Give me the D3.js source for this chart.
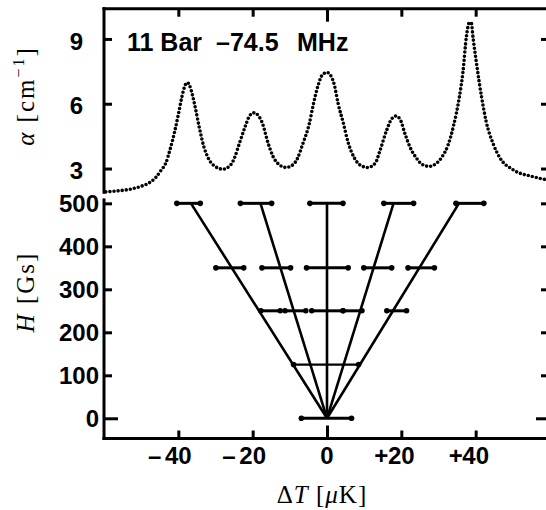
<!DOCTYPE html>
<html>
<head>
<meta charset="utf-8">
<script src="https://cdn.jsdelivr.net/npm/d3@7"></script>
<style>
body { margin: 0; background: #fff; }
svg { display: block; }
.num { font-family: "Liberation Sans", Arial, sans-serif; font-weight: bold; font-size: 24px; fill: #000; }
.ttl { font-family: "Liberation Serif", "Times New Roman", serif; font-size: 25px; fill: #000; }
</style>
</head>
<body>
<div id="chart"></div>
<script>
/* global d3 */

// absorption trace (delta T in microK, alpha in 1/cm)
var curveT = [-59.5, -56, -53, -50, -48, -46, -44.5, -43.5, -42.2, -41, -40, -39, -38.2, -37.6, -37, -36.2,
    -35.3, -34.3, -33.2, -32, -30.5, -28, -26, -25, -23.5, -22, -20.8, -19.6, -18.5, -17.5, -15.8, -14.5,
    -13, -11, -9, -8, -6.5, -4.8, -3.7, -2.4, -1.2, 0, 1.2, 2, 3, 4.4, 5.7, 7.5, 9, 11, 13, 14.2, 16, 17.4,
    18.5, 19.6, 21, 22.3, 24, 25.5, 27.5, 29.5, 31, 32.6, 34, 35.6, 36.6, 37.5, 38.3, 38.8, 39.3, 40.2,
    41.6, 42.8, 44.7, 46.5, 50, 55.5, 60];
var curveA = [1.92, 1.97, 2.04, 2.18, 2.32, 2.6, 2.95, 3.2, 3.9, 4.7, 5.5, 6.35, 6.85, 6.98, 6.85, 6.4,
    5.7, 4.85, 4.05, 3.5, 3.15, 2.97, 3.15, 3.45, 4.2, 4.95, 5.45, 5.58, 5.45, 5.15, 4.15, 3.55,
    3.2, 3.05, 3.2, 3.45, 4.15, 5.05, 5.95, 6.85, 7.35, 7.45, 7.25, 6.85, 6.0, 5.1, 4.2, 3.45, 3.15, 3.05, 3.25, 3.8, 4.75, 5.3,
    5.43, 5.3, 4.6, 4.0, 3.5, 3.2, 3.1, 3.25, 3.55, 4.1, 4.95, 6.3, 7.5, 9.1, 9.75, 9.75, 9.05, 7.9,
    6.3, 5.2, 4.15, 3.5, 2.95, 2.62, 2.45];

var alphaTicks = [3, 6, 9];
var fieldTicks = [0, 100, 200, 300, 400, 500];
var tempTicks = [-40, -20, 0, 20, 40];

// lines from the origin up to H = 500 Gs
var fanEndT = [-36.6, -17.9, 0, 17.9, 35.5];
var fanEndH = 500;

// horizontal bars with dotted ends
var barH  = [500, 500, 500, 500, 500, 350, 350, 350, 350, 350, 250, 250, 250, 250, 250, 125, 0];
var barLo = [-40.4, -23.3, -4.6, 15.3, 34.7, -29.9, -17.5, -5.5, 9.9, 21.8, -17.8, -11.3, -4.1, 4.3, 16.1, -9.0, -6.9];
var barHi = [-34.1, -14.9, 4.3, 23.3, 42.2, -22.4, -9.8, 5.7, 17.4, 28.9, -12.6, -5.7, 4.3, 9.4, 21.4, 8.5, 6.6];

(function () {
    var width = 546, height = 510;
    var svg = d3.select('#chart').append('svg')
            .attr('width', width)
            .attr('height', height);

    var x = d3.scaleLinear().domain([-60, 60]).range([104, 550]);
    var yA = d3.scaleLinear().domain([1.9, 10.4]).range([192.3, 8.7]);
    var yH = d3.scaleLinear().domain([-47, 508]).range([438.5, 199.9]);

    var xLeft = x.range()[0], xRight = x.range()[1];
    var yTop = yA.range()[1], yBottom = yH.range()[0];

    function styleAxis(g) {
        g.select('.domain').remove();
        g.selectAll('.tick line').attr('stroke', '#000').attr('stroke-width', 3);
        g.selectAll('.tick text').remove();
    }

    // frame lines
    var frame = [
        [xLeft, yA.range()[0], xLeft, yTop],
        [xLeft, yH.range()[1], xLeft, yBottom],
        [xLeft, yTop, xRight, yTop],
        [xLeft, yBottom, xRight, yBottom]
    ];
    svg.selectAll('line.frame').data(frame).enter().append('line')
            .attr('class', 'frame')
            .attr('x1', function (d) { return d[0]; })
            .attr('y1', function (d) { return d[1]; })
            .attr('x2', function (d) { return d[2]; })
            .attr('y2', function (d) { return d[3]; })
            .attr('stroke', '#000')
            .attr('stroke-width', 3)
            .attr('stroke-linecap', 'square');

    // ticks (inward on all four sides)
    svg.append('g').attr('transform', 'translate(' + xLeft + ',0)')
            .call(d3.axisRight(yA).tickValues(alphaTicks).tickSize(8).tickSizeOuter(0)).call(styleAxis);
    svg.append('g').attr('transform', 'translate(' + xRight + ',0)')
            .call(d3.axisLeft(yA).tickValues(alphaTicks).tickSize(9).tickSizeOuter(0)).call(styleAxis);

    var hl = svg.append('g').attr('transform', 'translate(' + xLeft + ',0)')
            .call(d3.axisRight(yH).tickValues(fieldTicks).tickSize(8).tickSizeOuter(0)).call(styleAxis);
    hl.selectAll('.tick line').filter(function (d) { return d === 0; }).attr('x2', 14);
    var hr = svg.append('g').attr('transform', 'translate(' + xRight + ',0)')
            .call(d3.axisLeft(yH).tickValues(fieldTicks).tickSize(9).tickSizeOuter(0)).call(styleAxis);
    hr.selectAll('.tick line').filter(function (d) { return d === 0; }).attr('x2', -14);

    var xt = svg.append('g').attr('transform', 'translate(0,' + yTop + ')')
            .call(d3.axisBottom(x).tickValues(tempTicks).tickSize(8).tickSizeOuter(0)).call(styleAxis);
    xt.selectAll('.tick line').filter(function (d) { return d === 0; }).attr('y2', 13);
    var xb = svg.append('g').attr('transform', 'translate(0,' + yBottom + ')')
            .call(d3.axisTop(x).tickValues(tempTicks).tickSize(8).tickSizeOuter(0)).call(styleAxis);
    xb.selectAll('.tick line').filter(function (d) { return d === 0; }).attr('y2', -13);

    // tick labels
    svg.selectAll('text.alab').data(alphaTicks).enter().append('text')
            .attr('class', 'num alab')
            .attr('x', 83).attr('y', function (d) { return yA(d) + 2; })
            .attr('dy', '0.36em').attr('text-anchor', 'end')
            .text(function (d) { return d; });

    svg.selectAll('text.hlab').data(fieldTicks).enter().append('text')
            .attr('class', 'num hlab')
            .attr('x', 99).attr('y', function (d) { return yH(d); })
            .attr('dy', '0.36em').attr('text-anchor', 'end')
            .text(function (d) { return d; });

    // x labels: digits centred on the tick, sign hung to the left
    var tl = svg.selectAll('g.tlab').data(tempTicks).enter().append('g')
            .attr('class', 'tlab')
            .attr('transform', function (d) { return 'translate(' + x(d) + ',464)'; });
    tl.append('text').attr('class', 'num').attr('text-anchor', 'middle')
            .text(function (d) { return Math.abs(d); });
    tl.filter(function (d) { return d !== 0; }).append('text')
            .attr('class', 'num').attr('text-anchor', 'end')
            .attr('x', function (d) { return d < 0 ? -17 : -13; })
            .text(function (d) { return d < 0 ? '\u2013' : '+'; });

    // absorption trace, dotted
    var line = d3.line()
            .x(function (d) { return x(d[0]); })
            .y(function (d) { return yA(d[1]); })
            .curve(d3.curveMonotoneX);
    svg.append('path')
            .datum(curveT.map(function (t, i) { return [t, curveA[i]]; }))
            .attr('d', line)
            .attr('fill', 'none')
            .attr('stroke', '#000')
            .attr('stroke-width', 3.6)
            .attr('stroke-linecap', 'round')
            .attr('stroke-dasharray', '0 4.1');

    // fan of lines
    svg.selectAll('line.fan').data(fanEndT).enter().append('line')
            .attr('class', 'fan')
            .attr('x1', x(0)).attr('y1', yH(0))
            .attr('x2', function (d) { return x(d); })
            .attr('y2', yH(fanEndH))
            .attr('stroke', '#000').attr('stroke-width', 2.6);

    // bars
    var bars = barH.map(function (h, i) { return {h: h, lo: barLo[i], hi: barHi[i]}; });
    svg.selectAll('line.bar').data(bars).enter().append('line')
            .attr('class', 'bar')
            .attr('x1', function (d) { return x(d.lo); })
            .attr('x2', function (d) { return x(d.hi); })
            .attr('y1', function (d) { return yH(d.h); })
            .attr('y2', function (d) { return yH(d.h); })
            .attr('stroke', '#000')
            .attr('stroke-width', function (d) { return d.h === 125 ? 2.2 : 3; });
    var ends = [];
    bars.forEach(function (d) { ends.push({t: d.lo, h: d.h}); ends.push({t: d.hi, h: d.h}); });
    svg.selectAll('circle.end').data(ends).enter().append('circle')
            .attr('class', 'end')
            .attr('cx', function (d) { return x(d.t); })
            .attr('cy', function (d) { return yH(d.h); })
            .attr('r', 2.8)
            .attr('fill', '#000');

    // annotation
    var note = svg.append('text').attr('class', 'num').attr('y', 51).style('font-size', '25px');
    note.append('tspan').attr('x', 127).text('11 Bar');
    note.append('tspan').attr('x', 216).text('\u201374.5');
    note.append('tspan').attr('x', 297).text('MHz');

    // axis titles
    var ta = svg.append('text').attr('class', 'ttl')
            .attr('transform', 'translate(34,96) rotate(-90)')
            .attr('text-anchor', 'middle').attr('letter-spacing', 2);
    ta.append('tspan').attr('font-style', 'italic').text('\u03b1');
    ta.append('tspan').text(' [cm');
    ta.append('tspan').attr('font-size', 16).attr('dy', -10).text('\u22121');
    ta.append('tspan').attr('dy', 10).text(']');

    var th = svg.append('text').attr('class', 'ttl')
            .attr('transform', 'translate(34,292) rotate(-90)')
            .attr('text-anchor', 'middle').attr('letter-spacing', 2);
    th.append('tspan').attr('font-style', 'italic').text('H');
    th.append('tspan').text(' [Gs]');

    var tx = svg.append('text').attr('class', 'ttl')
            .attr('x', 322).attr('y', 503)
            .attr('text-anchor', 'middle').attr('letter-spacing', 1);
    tx.append('tspan').text('\u0394');
    tx.append('tspan').attr('font-style', 'italic').text('T');
    tx.append('tspan').text(' [');
    tx.append('tspan').attr('font-style', 'italic').text('\u03bc');
    tx.append('tspan').text('K]');
})();
</script>
</body>
</html>
